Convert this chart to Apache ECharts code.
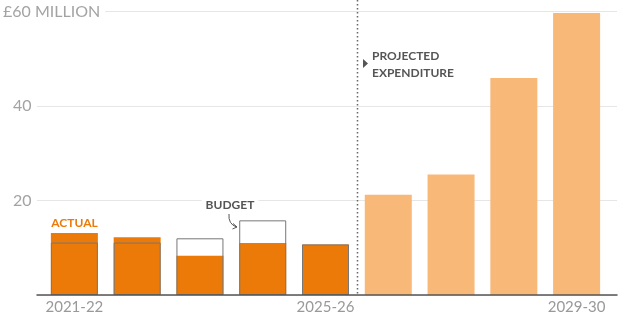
<!DOCTYPE html>
<html>
<head>
<meta charset="utf-8">
<script src="https://cdn.jsdelivr.net/npm/echarts@6/dist/echarts.min.js"></script>
<style>
  html, body { margin: 0; padding: 0; background: #fff; }
  #chart { width: 620px; height: 317px; }
</style>
</head>
<body>
<div id="chart"></div>
<script>
// years shown on the x axis (only every 4th one gets a label)
var years = ['2021-22', '2022-23', '2023-24', '2024-25', '2025-26', '2026-27', '2027-28', '2028-29', '2029-30'];
// £ million
var actual = [13.1, 12.2, 8.3, 11.0, 10.7, null, null, null, null];
var budget = [11.1, 11.1, 12.0, 15.8, 10.7, null, null, null, null];
var projected = [null, null, null, null, null, 21.2, 25.5, 45.9, 59.7];
var yTicks = [0, 20, 40, 60];

var FONT = 'Lato, "Open Sans", sans-serif';
var chart = echarts.init(document.getElementById('chart'));

var option = {
    animation: false,
    backgroundColor: '#fff',
    grid: [
        {left: 43, right: 12, top: 11.5, bottom: 22},   // bars
        {left: 37, right: 3, top: 11.5, bottom: 22}     // gridlines + baseline
    ],
    xAxis: [
        {
            type: 'category',
            gridIndex: 0,
            data: years,
            axisLine: {show: false},
            axisTick: {show: false},
            axisLabel: {
                interval: 3,
                margin: 5,
                color: '#999',
                fontFamily: FONT,
                fontSize: 15
            }
        },
        {
            type: 'category',
            gridIndex: 1,
            data: years,
            axisLine: {show: true, lineStyle: {color: '#555', width: 1.5}},
            axisTick: {show: false},
            axisLabel: {show: false},
            z: 5
        }
    ],
    yAxis: [
        {
            type: 'value',
            gridIndex: 0,
            min: 0, max: 60, interval: 20,
            show: false
        },
        {
            type: 'value',
            gridIndex: 1,
            min: 0, max: 60, interval: 20,
            axisLine: {show: false},
            axisTick: {show: false},
            splitLine: {lineStyle: {color: '#e6e6e6', width: 1}},
            axisLabel: {
                align: 'left',
                margin: 34,
                color: '#a3a3a3',
                fontFamily: FONT,
                fontSize: 16,
                formatter: function (v) {
                    if (v === 0) return '';
                    if (v === yTicks[yTicks.length - 1]) return '{t|£' + v + ' MILLION}';
                    return '{n|' + v + '}';
                },
                rich: {
                    t: {color: '#a3a3a3', fontFamily: FONT, fontSize: 16, backgroundColor: '#fff', padding: [2, 5, 2, 0]},
                    n: {color: '#a3a3a3', fontFamily: FONT, fontSize: 16, padding: [0, 0, 0, 10]}
                }
            }
        }
    ],
    series: [
        {
            name: 'Actual',
            type: 'bar',
            xAxisIndex: 0, yAxisIndex: 0,
            data: actual,
            barWidth: 47,
            barGap: '-100%',
            itemStyle: {color: '#ec7a08'}
        },
        {
            name: 'Projected',
            type: 'bar',
            xAxisIndex: 0, yAxisIndex: 0,
            data: projected,
            barWidth: 47,
            barGap: '-100%',
            itemStyle: {color: '#f8b878'}
        },
        {
            name: 'Budget',
            type: 'bar',
            xAxisIndex: 0, yAxisIndex: 0,
            data: budget,
            barWidth: 47,
            barGap: '-100%',
            itemStyle: {color: 'rgba(0,0,0,0)', borderColor: '#777', borderWidth: 1}
        }
    ]
};
chart.setOption(option);

// divider between actual and projected years, halfway between the two categories
var x4 = chart.convertToPixel({xAxisIndex: 0}, years[4]);
var x5 = chart.convertToPixel({xAxisIndex: 0}, years[5]);
var divX = Math.round((x4 + x5) / 2) + 0.5;
var baseY = chart.convertToPixel({yAxisIndex: 0}, 0);

var labelFont = 'bold 12px ' + FONT;
chart.setOption({
    graphic: [
        {
            type: 'line', z: 3,
            shape: {x1: divX, y1: 0, x2: divX, y2: baseY},
            style: {stroke: '#666', lineWidth: 1.5, lineDash: [1.5, 2.5]}
        },
        {
            type: 'polygon', z: 10,
            shape: {points: [[363, 59], [368, 63.5], [363, 68]]},
            style: {fill: '#555'}
        },
        {
            type: 'text', z: 10,
            style: {text: 'PROJECTED', x: 372, y: 56.5, font: labelFont, fill: '#555',
                    textAlign: 'left', textVerticalAlign: 'middle', align: 'left', verticalAlign: 'middle'}
        },
        {
            type: 'text', z: 10,
            style: {text: 'EXPENDITURE', x: 372, y: 73, font: labelFont, fill: '#555',
                    textAlign: 'left', textVerticalAlign: 'middle', align: 'left', verticalAlign: 'middle'}
        },
        {
            type: 'text', z: 10,
            style: {text: 'BUDGET', x: 230, y: 205.5, font: labelFont, fill: '#555',
                    backgroundColor: '#fff', padding: [2, 4],
                    textAlign: 'center', textVerticalAlign: 'middle', align: 'center', verticalAlign: 'middle'}
        },
        {
            type: 'bezierCurve', z: 10,
            shape: {x1: 229, y1: 214, cpx1: 228, cpy1: 224, x2: 236.5, y2: 227},
            style: {stroke: '#555', lineWidth: 1, fill: null}
        },
        {
            type: 'polyline', z: 10,
            shape: {points: [[233, 223.5], [237, 227], [232.5, 229]]},
            style: {stroke: '#555', lineWidth: 1, fill: null}
        },
        {
            type: 'text', z: 10,
            style: {text: 'ACTUAL', x: 74.5, y: 223, font: labelFont, fill: '#ec7a08',
                    textAlign: 'center', textVerticalAlign: 'middle', align: 'center', verticalAlign: 'middle'}
        }
    ]
});
</script>
</body>
</html>
